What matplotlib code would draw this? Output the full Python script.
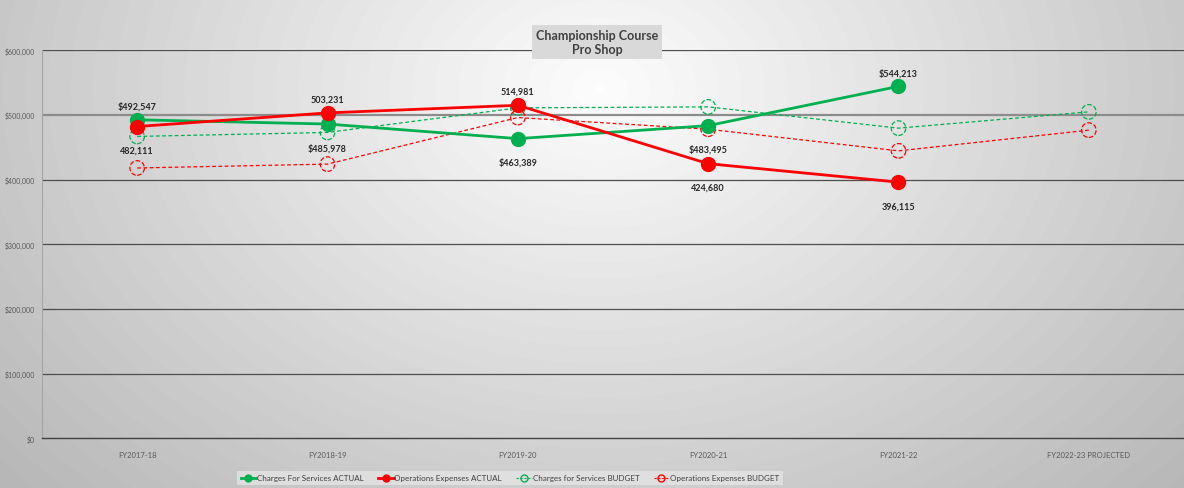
import numpy as np
import matplotlib.pyplot as plt
from matplotlib.lines import Line2D
from matplotlib.ticker import FuncFormatter

# data
years = ['FY2017-18', 'FY2018-19', 'FY2019-20', 'FY2020-21', 'FY2021-22', 'FY2022-23 PROJECTED']
charges_actual = [492547, 485978, 463389, 483495, 544213]
ops_actual = [482111, 503231, 514981, 424680, 396115]
charges_budget = [466800, 473000, 511000, 512500, 479600, 504800]
ops_budget = [418000, 424000, 496000, 478000, 444500, 476500]

# label placement: 1 above, -1 below
charges_lbl_pos = [1, -1, -1, -1, 1]
ops_lbl_pos = [-1, 1, 1, -1, -1]

GREEN = '#00b050'
RED = '#ff0000'

plt.rcParams['font.family'] = ['Lato', 'DejaVu Sans']

fig = plt.figure(figsize=(11.84, 4.89), dpi=100)

# radial grey background
bg = fig.add_axes([0, 0, 1, 1], zorder=-10)
yy, xx = np.mgrid[0:489, 0:1184]
r = np.sqrt(((xx - 600) / 700.0) ** 2 + ((yy - 90) / 520.0) ** 2)
shade = np.clip(0.99 - 0.24 * r, 0.72, 0.99)
bg.imshow(shade, cmap='gray', vmin=0, vmax=1, aspect='auto', extent=[0, 1, 0, 1], origin='upper')
bg.set_xlim(0, 1)
bg.set_ylim(0, 1)
bg.axis('off')

ax = fig.add_axes([42 / 1184, 49.7 / 489, 1142 / 1184, 388 / 489])
ax.patch.set_alpha(0)
x = np.arange(len(years))

ax.set_xlim(-0.5, 5.5)
ax.set_ylim(0, 600000)
ax.set_yticks(np.arange(0, 600001, 100000))
ax.yaxis.set_major_formatter(FuncFormatter(lambda v, p: f'${v:,.0f}'))
ax.set_xticks(x)
ax.set_xticklabels(years)
ax.tick_params(axis='y', length=0, labelsize=5, labelcolor='#595959', pad=5)
ax.tick_params(axis='x', length=0, labelsize=5.5, labelcolor='#595959', pad=9)
for yv in range(100000, 600001, 100000):
    c = '#8c8c8c' if yv == 500000 else '#4d4d4d'
    lw = 1.6 if yv == 500000 else 0.9
    ax.axhline(yv, color=c, lw=lw, zorder=1)
for s in ['top', 'right']:
    ax.spines[s].set_visible(False)
ax.spines['left'].set_color('#a6a6a6')
ax.spines['bottom'].set_color('#404040')
ax.spines['bottom'].set_linewidth(1.0)

# budget lines (dashed, hollow dashed markers)
xb = x[:len(charges_budget)]
ax.plot(xb, charges_budget, color=GREEN, lw=0.9, ls=(0, (3, 2)), zorder=3)
ax.scatter(xb, charges_budget, s=110, facecolors='none', edgecolors=GREEN,
           linewidths=0.9, linestyles='--', zorder=4)
ax.plot(xb, ops_budget, color=RED, lw=0.9, ls=(0, (3, 2)), zorder=3)
ax.scatter(xb, ops_budget, s=110, facecolors='none', edgecolors=RED,
           linewidths=0.9, linestyles='--', zorder=4)

# actual lines
xa = x[:len(charges_actual)]
ax.plot(xa, charges_actual, color=GREEN, lw=2.0, marker='o', ms=10, zorder=5)
ax.plot(xa, ops_actual, color=RED, lw=2.0, marker='o', ms=10, zorder=6)

def off(p):
    return 10 if p > 0 else -17

for xi, v, p in zip(xa, charges_actual, charges_lbl_pos):
    ax.annotate(f'${v:,}', (xi, v), xytext=(0, off(p)), textcoords='offset points',
                ha='center', va='center', fontsize=6.5, fontweight='bold', color='#262626', zorder=8)
for xi, v, p in zip(xa, ops_actual, ops_lbl_pos):
    ax.annotate(f'{v:,}', (xi, v), xytext=(0, off(p)), textcoords='offset points',
                ha='center', va='center', fontsize=6.5, fontweight='bold', color='#262626', zorder=8)

# title box
fig.text(597 / 1184, 1 - 43 / 489, 'Championship Course\nPro Shop', ha='center', va='center',
         fontsize=9, fontweight='bold', color='#404040', linespacing=1.2,
         bbox=dict(boxstyle='square,pad=0.3', facecolor='#d9d9d9', edgecolor='none'))

# legend
handles = [
    Line2D([], [], color=GREEN, lw=2, marker='o', ms=5),
    Line2D([], [], color=RED, lw=2, marker='o', ms=5),
    Line2D([], [], color=GREEN, lw=0.8, ls=(0, (2, 1.5)), marker='o', ms=5, mfc='none'),
    Line2D([], [], color=RED, lw=0.8, ls=(0, (2, 1.5)), marker='o', ms=5, mfc='none'),
]
labels = ['Charges For Services ACTUAL', 'Operations Expenses ACTUAL',
          'Charges for Services BUDGET', 'Operations Expenses BUDGET']
leg = fig.legend(handles, labels, loc='center', bbox_to_anchor=(510 / 1184, 1 - 479 / 489),
                 ncol=4, fontsize=5.8, frameon=True, handlelength=1.9, handletextpad=0.1,
                 columnspacing=1.8, borderpad=0.45, fancybox=False)
leg.get_frame().set_facecolor('#e4e4e4')
leg.get_frame().set_edgecolor('none')
for t in leg.get_texts():
    t.set_color('#404040')

fig.savefig('out.png', dpi=100)
